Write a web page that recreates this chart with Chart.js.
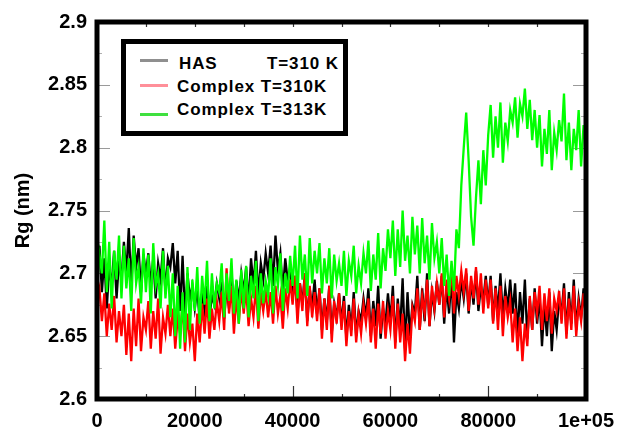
<!DOCTYPE html>
<html>
<head>
<meta charset="utf-8">
<script src="https://cdn.jsdelivr.net/npm/chart.js@4.4.1/dist/chart.umd.min.js"></script>
<style>
  html, body { margin: 0; padding: 0; background: #fff; }
  #wrap { position: relative; width: 629px; height: 436px; overflow: hidden; }
  #c { position: absolute; left: 0; top: 0; }
  #legend { position: absolute; left: 121px; top: 39px; width: 227px; height: 97px;
            box-sizing: border-box; border: 5px solid #000; background: #fff; }
  .lt { position: absolute; font: bold 17px "Liberation Sans", Arial, sans-serif; line-height: 20px;
        letter-spacing: 0.9px; color: #000; white-space: pre; }
  .sw { position: absolute; width: 28px; height: 3px; }
</style>
</head>
<body>
<div id="wrap">
  <canvas id="c" width="629" height="436"></canvas>
  <div id="legend"></div>
</div>
<script>
// ---- data (Rg in nm, sampled every 500 ps from 0 to 100000 ps) ----
const timeStepPs = 500;

const hasT310 = [
  2.700, 2.722, 2.685, 2.712, 2.672, 2.705, 2.690, 2.718, 2.680, 2.710,
  2.695, 2.725, 2.700, 2.736, 2.688, 2.730, 2.705, 2.720, 2.685, 2.715,
  2.700, 2.716, 2.690, 2.712, 2.680, 2.708, 2.695, 2.720, 2.685, 2.712,
  2.705, 2.724, 2.692, 2.718, 2.670, 2.714, 2.665, 2.700, 2.680, 2.690,
  2.672, 2.688, 2.662, 2.684, 2.670, 2.690, 2.665, 2.682, 2.675, 2.692,
  2.680, 2.698, 2.664, 2.690, 2.672, 2.702, 2.668, 2.694, 2.678, 2.700,
  2.685, 2.705, 2.675, 2.712, 2.690, 2.718, 2.682, 2.708, 2.695, 2.716,
  2.700, 2.722, 2.690, 2.730, 2.702, 2.716, 2.685, 2.712, 2.694, 2.705,
  2.680, 2.698, 2.668, 2.692, 2.675, 2.700, 2.662, 2.688, 2.672, 2.695,
  2.668, 2.688, 2.655, 2.680, 2.662, 2.690, 2.652, 2.676, 2.665, 2.684,
  2.660, 2.682, 2.648, 2.675, 2.655, 2.685, 2.650, 2.670, 2.662, 2.680,
  2.665, 2.688, 2.650, 2.678, 2.658, 2.690, 2.648, 2.672, 2.660, 2.684,
  2.662, 2.690, 2.645, 2.680, 2.655, 2.696, 2.640, 2.685, 2.650, 2.675,
  2.668, 2.698, 2.655, 2.688, 2.662, 2.700, 2.658, 2.685, 2.670, 2.694,
  2.675, 2.698, 2.660, 2.690, 2.668, 2.700, 2.645, 2.685, 2.672, 2.695,
  2.680, 2.700, 2.668, 2.694, 2.675, 2.702, 2.670, 2.690, 2.678, 2.698,
  2.675, 2.698, 2.662, 2.690, 2.670, 2.700, 2.665, 2.688, 2.672, 2.695,
  2.668, 2.692, 2.650, 2.685, 2.660, 2.695, 2.648, 2.680, 2.655, 2.688,
  2.660, 2.682, 2.642, 2.675, 2.650, 2.685, 2.638, 2.670, 2.655, 2.680,
  2.668, 2.692, 2.652, 2.685, 2.660, 2.695, 2.655, 2.680, 2.665, 2.688,
  2.670
];

const complexT310 = [
  2.680, 2.688, 2.662, 2.684, 2.650, 2.676, 2.655, 2.682, 2.645, 2.670,
  2.650, 2.675, 2.635, 2.668, 2.630, 2.672, 2.642, 2.680, 2.638, 2.665,
  2.655, 2.678, 2.640, 2.670, 2.648, 2.680, 2.636, 2.665, 2.652, 2.675,
  2.650, 2.672, 2.640, 2.665, 2.652, 2.675, 2.638, 2.668, 2.645, 2.660,
  2.630, 2.668, 2.645, 2.676, 2.652, 2.680, 2.648, 2.672, 2.655, 2.678,
  2.662, 2.685, 2.655, 2.704, 2.668, 2.690, 2.652, 2.682, 2.660, 2.688,
  2.668, 2.688, 2.658, 2.680, 2.665, 2.690, 2.656, 2.684, 2.670, 2.686,
  2.665, 2.685, 2.660, 2.690, 2.668, 2.682, 2.656, 2.688, 2.672, 2.695,
  2.675, 2.698, 2.660, 2.692, 2.670, 2.700, 2.658, 2.690, 2.665, 2.685,
  2.662, 2.688, 2.648, 2.680, 2.655, 2.690, 2.645, 2.678, 2.660, 2.684,
  2.655, 2.678, 2.642, 2.670, 2.650, 2.680, 2.645, 2.668, 2.652, 2.675,
  2.660, 2.680, 2.645, 2.672, 2.640, 2.676, 2.652, 2.678, 2.648, 2.670,
  2.655, 2.682, 2.640, 2.676, 2.645, 2.668, 2.630, 2.660, 2.636, 2.672,
  2.662, 2.688, 2.655, 2.682, 2.668, 2.695, 2.658, 2.690, 2.672, 2.692,
  2.675, 2.700, 2.665, 2.695, 2.680, 2.705, 2.668, 2.698, 2.682, 2.702,
  2.685, 2.704, 2.670, 2.698, 2.680, 2.705, 2.675, 2.700, 2.668, 2.695,
  2.672, 2.695, 2.660, 2.688, 2.655, 2.690, 2.650, 2.682, 2.665, 2.678,
  2.645, 2.672, 2.638, 2.665, 2.630, 2.660, 2.642, 2.682, 2.655, 2.685,
  2.668, 2.690, 2.655, 2.684, 2.662, 2.688, 2.652, 2.680, 2.670, 2.686,
  2.660, 2.688, 2.648, 2.680, 2.655, 2.690, 2.650, 2.676, 2.662, 2.684,
  2.665
];

const complexT313 = [
  2.690, 2.715, 2.700, 2.742, 2.685, 2.725, 2.672, 2.718, 2.695, 2.730,
  2.680, 2.722, 2.688, 2.712, 2.670, 2.728, 2.692, 2.705, 2.676, 2.720,
  2.685, 2.715, 2.668, 2.724, 2.690, 2.700, 2.672, 2.718, 2.680, 2.706,
  2.665, 2.700, 2.650, 2.690, 2.640, 2.685, 2.645, 2.705, 2.655, 2.695,
  2.670, 2.705, 2.660, 2.698, 2.675, 2.710, 2.662, 2.700, 2.672, 2.692,
  2.685, 2.708, 2.665, 2.700, 2.678, 2.712, 2.668, 2.695, 2.660, 2.703,
  2.672, 2.706, 2.665, 2.698, 2.680, 2.710, 2.662, 2.700, 2.676, 2.694,
  2.682, 2.712, 2.668, 2.705, 2.690, 2.716, 2.670, 2.700, 2.684, 2.714,
  2.690, 2.722, 2.680, 2.730, 2.695, 2.715, 2.682, 2.728, 2.692, 2.718,
  2.700, 2.724, 2.684, 2.712, 2.692, 2.720, 2.680, 2.715, 2.694, 2.708,
  2.690, 2.718, 2.682, 2.710, 2.698, 2.722, 2.684, 2.706, 2.692, 2.716,
  2.700, 2.726, 2.686, 2.715, 2.695, 2.732, 2.688, 2.720, 2.702, 2.735,
  2.712, 2.742, 2.698, 2.735, 2.705, 2.750, 2.710, 2.730, 2.700, 2.745,
  2.715, 2.738, 2.700, 2.744, 2.708, 2.730, 2.695, 2.740, 2.712, 2.725,
  2.700, 2.728, 2.690, 2.715, 2.682, 2.710, 2.686, 2.735, 2.720, 2.770,
  2.800, 2.828, 2.790, 2.745, 2.722, 2.760, 2.790, 2.755, 2.798, 2.770,
  2.810, 2.834, 2.792, 2.825, 2.800, 2.836, 2.788, 2.820, 2.805, 2.830,
  2.820, 2.840, 2.808, 2.835, 2.825, 2.847, 2.815, 2.838, 2.806, 2.830,
  2.800, 2.826, 2.785, 2.815, 2.795, 2.830, 2.782, 2.812, 2.798, 2.822,
  2.805, 2.843, 2.790, 2.820, 2.782, 2.815, 2.798, 2.830, 2.785, 2.818,
  2.800
];

const seriesLabels = ['HAS', 'Complex T=310K', 'Complex T=313K'];
const legendTexts = [['HAS', 'T=310 K'], ['Complex T=310K', null], ['Complex T=313K', null]];
const xTickValues = [0, 20000, 40000, 60000, 80000, 100000];
const xTickLabels = ['0', '20000', '40000', '60000', '80000', '1e+05'];
const yTickValues = [2.6, 2.65, 2.7, 2.75, 2.8, 2.85, 2.9];
const yTickLabels = ['2.6', '2.65', '2.7', '2.75', '2.8', '2.85', '2.9'];
const yAxisTitle = 'Rg (nm)';

// ---- build ----
const toPts = arr => arr.map((v, i) => ({ x: i * timeStepPs, y: v }));
const FONT = '"Liberation Sans", Arial, sans-serif';

const frame = {
  id: 'frame',
  beforeDatasetsDraw(chart) {
    const { ctx, chartArea: a, scales: { x, y } } = chart;
    ctx.save();
    ctx.lineWidth = 1.2;
    for (let k = 0; k <= 12; k++) {
      const v = 2.6 + k * 0.025;
      const py = Math.round(y.getPixelForValue(v)) + 0.5;
      const major = k % 2 === 0;
      const len = major ? 13 : 5;
      ctx.strokeStyle = major ? '#9a9a9a' : '#b0b0b0';
      ctx.beginPath();
      ctx.moveTo(a.left, py); ctx.lineTo(a.left + len, py);
      ctx.moveTo(a.right, py); ctx.lineTo(a.right - len, py);
      ctx.stroke();
    }
    ctx.strokeStyle = '#333';
    for (let k = 1; k < 10; k++) {
      const px = Math.round(x.getPixelForValue(k * 10000)) + 0.5;
      const major = k % 2 === 0;
      ctx.beginPath();
      ctx.moveTo(px, a.top); ctx.lineTo(px, a.top + 5);
      ctx.moveTo(px, a.bottom); ctx.lineTo(px, a.bottom - (major ? 13 : 5));
      ctx.stroke();
    }
    ctx.restore();
  },
  afterDatasetsDraw(chart) {
    const { ctx, chartArea: a } = chart;
    ctx.save();
    ctx.strokeStyle = '#000';
    ctx.lineWidth = 5;
    ctx.strokeRect(a.left, a.top, a.right - a.left, a.bottom - a.top);
    ctx.restore();
  }
};

const chart = new Chart(document.getElementById('c'), {
  type: 'line',
  data: {
    datasets: [
      { label: seriesLabels[0], data: toPts(hasT310), borderColor: '#000000', order: 3 },
      { label: seriesLabels[1], data: toPts(complexT310), borderColor: '#ff0000', order: 2 },
      { label: seriesLabels[2], data: toPts(complexT313), borderColor: '#00ff00', order: 1 }
    ]
  },
  options: {
    responsive: false,
    devicePixelRatio: 1,
    animation: false,
    elements: { point: { radius: 0 }, line: { borderWidth: 2.3, tension: 0, borderJoinStyle: 'miter' } },
    layout: { padding: { left: 0, top: 21, right: 43, bottom: 0 } },
    plugins: { legend: { display: false }, tooltip: { enabled: false } },
    scales: {
      x: {
        type: 'linear', min: 0, max: 100000,
        afterBuildTicks: s => { s.ticks = xTickValues.map(v => ({ value: v })); },
        afterFit: s => { s.height = 37; },
        ticks: {
          callback: (v, i) => xTickLabels[i],
          color: '#000', padding: 10, maxRotation: 0, autoSkip: false,
          font: { family: FONT, size: 20, weight: 'bold' }
        },
        grid: { display: false, drawTicks: false },
        border: { display: false }
      },
      y: {
        type: 'linear', min: 2.6, max: 2.9,
        afterBuildTicks: s => { s.ticks = yTickValues.map(v => ({ value: v })); },
        afterFit: s => { s.width = 97; },
        ticks: {
          callback: (v, i) => yTickLabels[i],
          color: '#000', padding: 10, autoSkip: false,
          font: { family: FONT, size: 20, weight: 'bold' }
        },
        title: {
          display: true, text: yAxisTitle, color: '#000',
          padding: { top: 11, bottom: 0 },
          font: { family: FONT, size: 20, weight: 'bold' }
        },
        grid: { display: false, drawTicks: false },
        border: { display: false }
      }
    }
  },
  plugins: [frame]
});

// ---- legend (HTML text) ----
const legendColors = ['#8f8f8f', '#ff8f99', '#3fe03f'];
const leg = document.getElementById('legend');
const lx = 121, ly = 39, bw = 5;
const baselines = [70, 93, 116];
const swatchY = [60, 85, 114];
legendTexts.forEach((t, i) => {
  const sw = document.createElement('div');
  sw.className = 'sw';
  sw.style.background = legendColors[i];
  sw.style.left = (140 - lx - bw) + 'px';
  sw.style.top = (swatchY[i] - 1 - ly - bw) + 'px';
  leg.appendChild(sw);
  const a = document.createElement('div');
  a.className = 'lt';
  a.textContent = t[0];
  a.style.left = ((i === 0 ? 179 : 177) - lx - bw) + 'px';
  a.style.top = (baselines[i] - 16 - ly - bw) + 'px';
  leg.appendChild(a);
  if (t[1]) {
    const b = document.createElement('div');
    b.className = 'lt';
    b.textContent = t[1];
    b.style.left = (267 - lx - bw) + 'px';
    b.style.top = (baselines[i] - 16 - ly - bw) + 'px';
    leg.appendChild(b);
  }
});
</script>
</body>
</html>
